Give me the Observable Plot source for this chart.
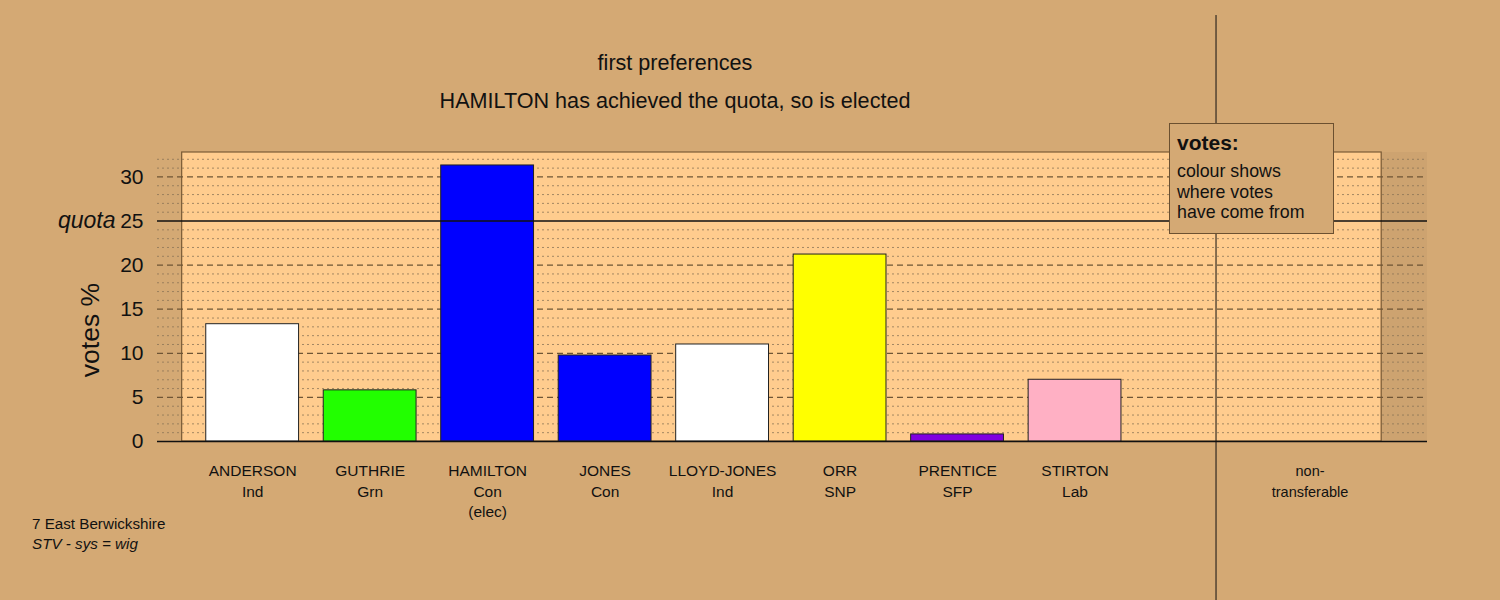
<!DOCTYPE html>
<html>
<head>
<meta charset="utf-8">
<script src="https://cdn.jsdelivr.net/npm/d3@7"></script>
<script src="https://cdn.jsdelivr.net/npm/@observablehq/plot@0.6"></script>
<style>
  html, body { margin: 0; padding: 0; background: #d4a974; }
  #wrap { position: relative; width: 1500px; height: 600px; font-family: "Liberation Sans", Arial, sans-serif; color: #111; }
  .abs { position: absolute; white-space: nowrap; }
  #legend { position: absolute; left: 1169px; top: 123px; width: 163px; height: 109px; background: #d4a974; border: 1px solid #6b5030; box-sizing: content-box; }
</style>
</head>
<body>
<div id="wrap"></div>
<script>
// ---- data ----
const candidates = ["ANDERSON", "GUTHRIE", "HAMILTON", "JONES", "LLOYD-JONES", "ORR", "PRENTICE", "STIRTON"];
const parties    = ["Ind", "Grn", "Con", "Con", "Ind", "SNP", "SFP", "Lab"];
const status     = ["", "", "(elec)", "", "", "", "", ""];
const votes      = [13.3, 5.8, 31.3, 9.75, 11.0, 21.2, 0.8, 7.0];
const colours    = ["#ffffff", "#22ff00", "#0000ff", "#0000ff", "#ffffff", "#ffff00", "#8000e0", "#ffb0c4"];
const nonTransferableLabel = "non-\ntransferable";
const nonTransferable = 0;
const quota = 25;
const yTicks = [0, 5, 10, 15, 20, 25, 30];
const titleText = "first preferences";
const subtitleText = "HAMILTON has achieved the quota, so is elected";
const captionLines = ["7 East Berwickshire", "STV - sys = wig"];

// ---- layout in slot units ----
const ntSlot = candidates.length + 1;           // one empty slot before non-transferable
const barHalf = 0.395;
const xMin = -0.81, xMax = ntSlot + 1.0;
const panelX1 = -0.6, panelX2 = ntSlot + 0.61;
const yMax = 32.77;
const dividerX = candidates.length + 0.2;

const bars = candidates.map((c, i) => ({
  i, name: c, party: parties[i], status: status[i], v: votes[i], col: colours[i],
  label: c + "\n" + parties[i] + (status[i] ? "\n" + status[i] : "")
}));

const minor = d3.range(1, 33).filter(d => d % 5 !== 0);
const major = [5, 10, 15, 20, 30];

const plot = Plot.plot({
  width: 1500, height: 600,
  marginLeft: 157, marginRight: 73, marginTop: 152, marginBottom: 159,
  style: { background: "transparent", fontFamily: "Liberation Sans, Arial, sans-serif", color: "#111", overflow: "visible" },
  x: { domain: [xMin, xMax], axis: null },
  y: { domain: [0, yMax], axis: null },
  marks: [
    Plot.rect([0], { x1: panelX1, x2: panelX2, y1: 0, y2: yMax, fill: "#ffcc8e", stroke: "#7a5a35", strokeWidth: 1.2 }),
    Plot.rect([0], { x1: panelX2, x2: xMax, y1: 0, y2: yMax, fill: "#000", fillOpacity: 0.03 }),
    Plot.ruleY(minor, { stroke: "#8c7658", strokeWidth: 1, strokeDasharray: "2,3", strokeOpacity: 0.8 }),
    Plot.ruleY(major, { stroke: "#6e5535", strokeWidth: 1.2, strokeDasharray: "6,4" }),
    Plot.rectY(bars, { x1: d => d.i - barHalf, x2: d => d.i + barHalf, y1: 0, y2: "v", fill: "col", stroke: "#222", strokeWidth: 1 }),
    Plot.rectY([nonTransferable], { x1: ntSlot - barHalf, x2: ntSlot + barHalf, y1: 0, y2: d => d, fill: "#888", stroke: "#222" }),
    Plot.ruleY([0], { stroke: "#111", strokeWidth: 1.5 }),
    Plot.ruleY([quota], { stroke: "#111", strokeWidth: 1.5 }),
    Plot.ruleX([dividerX], { y1: -18.1, y2: 48.3, stroke: "#111", strokeWidth: 1 }),
    Plot.axisY({ ticks: yTicks, tickSize: 0, tickPadding: 14, fontSize: 21, label: null, tickFormat: d => d }),
    Plot.text([quota], { y: d => d, frameAnchor: "left", dx: -42, textAnchor: "end", text: () => "quota", fontSize: 23, fontStyle: "italic" }),
    Plot.text(bars, { x: "i", frameAnchor: "bottom", text: "label", lineAnchor: "top", dy: 20, fontSize: 15.5, lineHeight: 1.33 }),
    Plot.text([nonTransferableLabel], { x: ntSlot, frameAnchor: "bottom", text: d => d, lineAnchor: "top", dy: 20, fontSize: 14.5, lineHeight: 1.42 })
  ]
});

const wrap = document.getElementById("wrap");
plot.style.position = "absolute";
plot.style.left = "0px";
plot.style.top = "0px";
wrap.appendChild(plot);

function addText(txt, css) {
  const d = document.createElement("div");
  d.className = "abs";
  d.textContent = txt;
  Object.assign(d.style, css);
  wrap.appendChild(d);
  return d;
}
addText(titleText, { left: "0px", width: "1350px", textAlign: "center", top: "50px", fontSize: "21.6px" });
addText(subtitleText, { left: "0px", width: "1350px", textAlign: "center", top: "88px", fontSize: "21.6px" });
addText("votes %", { left: "90px", top: "330px", fontSize: "26.5px", transform: "translate(-50%, -50%) rotate(-90deg)" });
addText(captionLines[0], { left: "32px", top: "515px", fontSize: "15.2px" });
addText(captionLines[1], { left: "32px", top: "535px", fontSize: "15.2px", fontStyle: "italic" });

const lg = document.createElement("div");
lg.id = "legend";
lg.innerHTML = '<div class="abs" style="left:7px;top:7px;font-size:21px;font-weight:bold">votes:</div>' +
  '<div class="abs" style="left:7px;top:37px;font-size:17.8px;line-height:20.5px">colour shows<br>where votes<br>have come from</div>';
wrap.appendChild(lg);
</script>
</body>
</html>
